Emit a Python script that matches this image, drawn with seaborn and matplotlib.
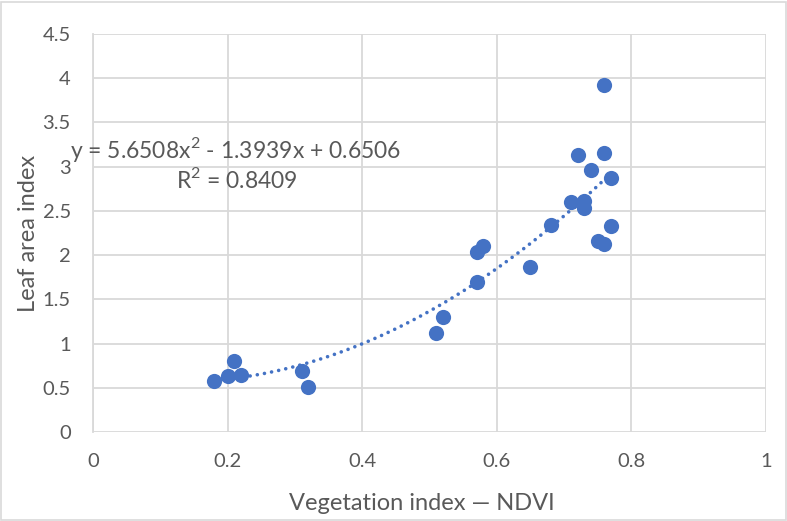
import numpy as np
import pandas as pd
import matplotlib
matplotlib.use("Agg")
import matplotlib.pyplot as plt
import seaborn as sns
from matplotlib.patches import Rectangle

ndvi = [0.18, 0.20, 0.21, 0.22, 0.31, 0.32, 0.51, 0.52, 0.57, 0.57, 0.58, 0.65,
        0.68, 0.71, 0.72, 0.73, 0.73, 0.74, 0.76, 0.76, 0.77, 0.77, 0.75, 0.76]
lai = [0.58, 0.63, 0.80, 0.65, 0.69, 0.51, 1.12, 1.30, 1.70, 2.04, 2.10, 1.86,
       2.34, 2.60, 3.13, 2.61, 2.53, 2.96, 3.92, 3.15, 2.87, 2.33, 2.16, 2.12]
trend_coef = [5.6508, -1.3939, 0.6506]
eq_text = "y = 5.6508x$^2$ - 1.3939x + 0.6506"
r2_text = "R$^2$ = 0.8409"
x_ticks = [0, 0.2, 0.4, 0.6, 0.8, 1]
x_tick_labels = ["0", "0.2", "0.4", "0.6", "0.8", "1"]
y_ticks = [0, 0.5, 1, 1.5, 2, 2.5, 3, 3.5, 4, 4.5]
y_tick_labels = ["0", "0.5", "1", "1.5", "2", "2.5", "3", "3.5", "4", "4.5"]

df = pd.DataFrame({"ndvi": ndvi, "lai": lai})

sns.set_style("white")
plt.rcParams["font.family"] = ["Lato", "DejaVu Sans"]
plt.rcParams["mathtext.fontset"] = "custom"
plt.rcParams["mathtext.rm"] = "Lato"

fig = plt.figure(figsize=(7.87, 5.21), dpi=100)
ax = fig.add_axes([93/787, 1-432/521, (766-93)/787, (432-34)/521])

grey = "#595959"
grid = "#d9d9d9"
blue = "#4472C4"

# trend line
xs = np.linspace(min(ndvi), max(ndvi), 200)
ys = np.polyval(trend_coef, xs)
ax.plot(xs, ys, color=blue, linewidth=2.6, linestyle=(0, (0.01, 2.0)),
        dash_capstyle="round", zorder=2)

sns.scatterplot(data=df, x="ndvi", y="lai", ax=ax, s=120, color=blue,
                edgecolor=blue, linewidth=0, zorder=3)

ax.set_xlim(0, 1)
ax.set_ylim(0, 4.5)
ax.set_xticks(x_ticks)
ax.set_xticklabels(x_tick_labels)
ax.set_yticks(y_ticks)
ax.set_yticklabels(y_tick_labels)
ax.grid(True, color=grid, linewidth=1.3)
ax.set_axisbelow(True)
for s in ["top", "right", "bottom"]:
    ax.spines[s].set_visible(False)
ax.spines["left"].set_color(grid)
ax.spines["left"].set_linewidth(1.3)
ax.tick_params(axis="both", length=0, labelsize=14.5, colors=grey)
ax.tick_params(axis="y", pad=16)
ax.tick_params(axis="x", pad=15)

ax.set_xlabel("Vegetation index \u2014 NDVI", fontsize=17, color=grey)
ax.set_ylabel("Leaf area index", fontsize=17, color=grey)
ax.xaxis.set_label_coords((422-93)/673, (432-510)/398)
ax.xaxis.label.set_va("baseline")
ax.yaxis.set_label_coords((29-93)/673, 0.5)
ax.yaxis.label.set_va("center")

ax.text(0.212, 3.10, eq_text, fontsize=16.5, color=grey, ha="center", va="baseline")
ax.text(0.214, 2.76, r2_text, fontsize=16.5, color=grey, ha="center", va="baseline")

fig.patches.append(Rectangle((1/787, 1/521), 785/787, 518/521, transform=fig.transFigure,
                             fill=False, edgecolor="#d9d9d9", linewidth=1.2))

fig.savefig("out.png", dpi=100)
